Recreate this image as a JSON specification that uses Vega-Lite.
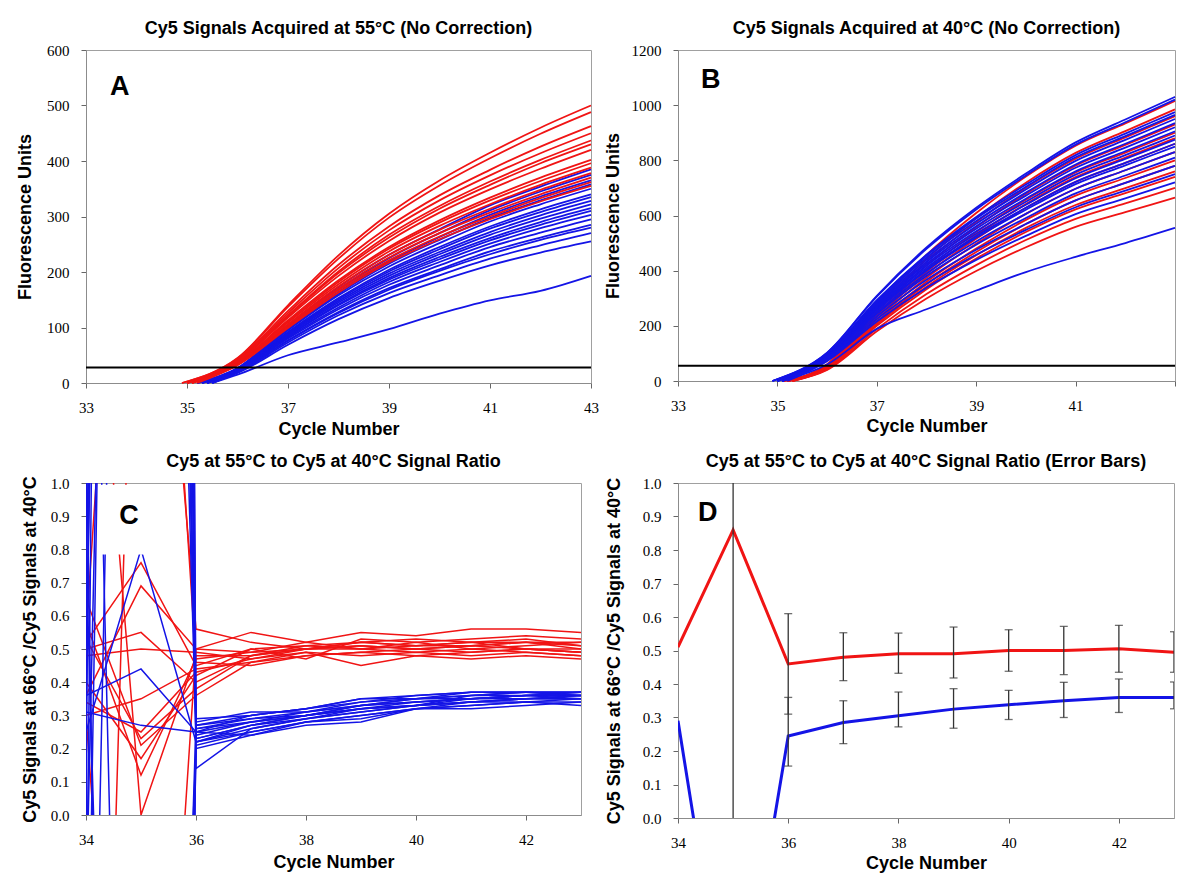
{
"$schema":"https://vega.github.io/schema/vega-lite/v6.json",
"padding":{"left":16,"top":19,"right":5,"bottom":5},
"bounds":"flush",
"columns":2,
"spacing":{"row":100,"column":87},
"config":{
"view":{"stroke":"#a0a0a0","strokeWidth":1},
"axis":{"grid":false,"domainColor":"#8c8c8c","tickColor":"#666","tickSize":5,"labelFont":"'Liberation Serif', 'Times New Roman', serif","labelFontSize":15,"labelColor":"#000","labelPadding":12,"labelFlush":false,"labelOverlap":false,"titleFont":"Liberation Sans","titleFontSize":18,"titleFontWeight":"bold","titleColor":"#000","titleBaseline":"alphabetic"},
"title":{"font":"Liberation Sans","fontSize":18,"fontWeight":"bold","color":"#000","offset":5,"anchor":"middle"}
},
"datasets":{
"A":[
{"s":"b1","g":"b","x":35.2,"y":0},{"s":"b1","g":"b","x":36,"y":27},{"s":"b1","g":"b","x":37,"y":104},{"s":"b1","g":"b","x":38,"y":173},{"s":"b1","g":"b","x":39,"y":231},{"s":"b1","g":"b","x":40,"y":277},{"s":"b1","g":"b","x":41,"y":320},{"s":"b1","g":"b","x":42,"y":354},{"s":"b1","g":"b","x":43,"y":385},
{"s":"b2","g":"b","x":35.3,"y":0},{"s":"b2","g":"b","x":36,"y":26},{"s":"b2","g":"b","x":37,"y":101},{"s":"b2","g":"b","x":38,"y":169},{"s":"b2","g":"b","x":39,"y":225},{"s":"b2","g":"b","x":40,"y":270},{"s":"b2","g":"b","x":41,"y":311},{"s":"b2","g":"b","x":42,"y":345},{"s":"b2","g":"b","x":43,"y":375},
{"s":"b3","g":"b","x":35.2,"y":0},{"s":"b3","g":"b","x":36,"y":26},{"s":"b3","g":"b","x":37,"y":99},{"s":"b3","g":"b","x":38,"y":164},{"s":"b3","g":"b","x":39,"y":219},{"s":"b3","g":"b","x":40,"y":263},{"s":"b3","g":"b","x":41,"y":303},{"s":"b3","g":"b","x":42,"y":336},{"s":"b3","g":"b","x":43,"y":365},
{"s":"b4","g":"b","x":35.3,"y":0},{"s":"b4","g":"b","x":36,"y":25},{"s":"b4","g":"b","x":37,"y":97},{"s":"b4","g":"b","x":38,"y":161},{"s":"b4","g":"b","x":39,"y":215},{"s":"b4","g":"b","x":40,"y":258},{"s":"b4","g":"b","x":41,"y":297},{"s":"b4","g":"b","x":42,"y":329},{"s":"b4","g":"b","x":43,"y":358},
{"s":"b5","g":"b","x":35.4,"y":0},{"s":"b5","g":"b","x":36,"y":25},{"s":"b5","g":"b","x":37,"y":95},{"s":"b5","g":"b","x":38,"y":158},{"s":"b5","g":"b","x":39,"y":210},{"s":"b5","g":"b","x":40,"y":252},{"s":"b5","g":"b","x":41,"y":291},{"s":"b5","g":"b","x":42,"y":322},{"s":"b5","g":"b","x":43,"y":350},
{"s":"b6","g":"b","x":35.3,"y":0},{"s":"b6","g":"b","x":36,"y":24},{"s":"b6","g":"b","x":37,"y":92},{"s":"b6","g":"b","x":38,"y":153},{"s":"b6","g":"b","x":39,"y":204},{"s":"b6","g":"b","x":40,"y":245},{"s":"b6","g":"b","x":41,"y":282},{"s":"b6","g":"b","x":42,"y":313},{"s":"b6","g":"b","x":43,"y":340},
{"s":"b7","g":"b","x":35.2,"y":0},{"s":"b7","g":"b","x":36,"y":23},{"s":"b7","g":"b","x":37,"y":90},{"s":"b7","g":"b","x":38,"y":151},{"s":"b7","g":"b","x":39,"y":201},{"s":"b7","g":"b","x":40,"y":241},{"s":"b7","g":"b","x":41,"y":278},{"s":"b7","g":"b","x":42,"y":308},{"s":"b7","g":"b","x":43,"y":335},
{"s":"b8","g":"b","x":35.4,"y":0},{"s":"b8","g":"b","x":36,"y":23},{"s":"b8","g":"b","x":37,"y":89},{"s":"b8","g":"b","x":38,"y":148},{"s":"b8","g":"b","x":39,"y":197},{"s":"b8","g":"b","x":40,"y":236},{"s":"b8","g":"b","x":41,"y":272},{"s":"b8","g":"b","x":42,"y":302},{"s":"b8","g":"b","x":43,"y":328},
{"s":"b9","g":"b","x":35.3,"y":0},{"s":"b9","g":"b","x":36,"y":23},{"s":"b9","g":"b","x":37,"y":87},{"s":"b9","g":"b","x":38,"y":145},{"s":"b9","g":"b","x":39,"y":193},{"s":"b9","g":"b","x":40,"y":232},{"s":"b9","g":"b","x":41,"y":267},{"s":"b9","g":"b","x":42,"y":296},{"s":"b9","g":"b","x":43,"y":322},
{"s":"b10","g":"b","x":35.4,"y":0},{"s":"b10","g":"b","x":36,"y":22},{"s":"b10","g":"b","x":37,"y":85},{"s":"b10","g":"b","x":38,"y":142},{"s":"b10","g":"b","x":39,"y":189},{"s":"b10","g":"b","x":40,"y":227},{"s":"b10","g":"b","x":41,"y":261},{"s":"b10","g":"b","x":42,"y":290},{"s":"b10","g":"b","x":43,"y":315},
{"s":"b11","g":"b","x":35.3,"y":0},{"s":"b11","g":"b","x":36,"y":22},{"s":"b11","g":"b","x":37,"y":84},{"s":"b11","g":"b","x":38,"y":140},{"s":"b11","g":"b","x":39,"y":186},{"s":"b11","g":"b","x":40,"y":223},{"s":"b11","g":"b","x":41,"y":257},{"s":"b11","g":"b","x":42,"y":285},{"s":"b11","g":"b","x":43,"y":310},
{"s":"b12","g":"b","x":35.4,"y":0},{"s":"b12","g":"b","x":36,"y":21},{"s":"b12","g":"b","x":37,"y":82},{"s":"b12","g":"b","x":38,"y":136},{"s":"b12","g":"b","x":39,"y":182},{"s":"b12","g":"b","x":40,"y":218},{"s":"b12","g":"b","x":41,"y":251},{"s":"b12","g":"b","x":42,"y":279},{"s":"b12","g":"b","x":43,"y":303},
{"s":"b13","g":"b","x":35.5,"y":0},{"s":"b13","g":"b","x":36,"y":21},{"s":"b13","g":"b","x":37,"y":80},{"s":"b13","g":"b","x":38,"y":133},{"s":"b13","g":"b","x":39,"y":177},{"s":"b13","g":"b","x":40,"y":212},{"s":"b13","g":"b","x":41,"y":245},{"s":"b13","g":"b","x":42,"y":271},{"s":"b13","g":"b","x":43,"y":295},
{"s":"b14","g":"b","x":35.4,"y":0},{"s":"b14","g":"b","x":36,"y":20},{"s":"b14","g":"b","x":37,"y":77},{"s":"b14","g":"b","x":38,"y":128},{"s":"b14","g":"b","x":39,"y":171},{"s":"b14","g":"b","x":40,"y":205},{"s":"b14","g":"b","x":41,"y":237},{"s":"b14","g":"b","x":42,"y":262},{"s":"b14","g":"b","x":43,"y":285},
{"s":"b15","g":"b","x":35.5,"y":0},{"s":"b15","g":"b","x":36,"y":20},{"s":"b15","g":"b","x":37,"y":76},{"s":"b15","g":"b","x":38,"y":126},{"s":"b15","g":"b","x":39,"y":168},{"s":"b15","g":"b","x":40,"y":202},{"s":"b15","g":"b","x":41,"y":232},{"s":"b15","g":"b","x":42,"y":258},{"s":"b15","g":"b","x":43,"y":280},
{"s":"b16","g":"b","x":35.5,"y":0},{"s":"b16","g":"b","x":36,"y":19},{"s":"b16","g":"b","x":37,"y":73},{"s":"b16","g":"b","x":38,"y":122},{"s":"b16","g":"b","x":39,"y":162},{"s":"b16","g":"b","x":40,"y":194},{"s":"b16","g":"b","x":41,"y":224},{"s":"b16","g":"b","x":42,"y":248},{"s":"b16","g":"b","x":43,"y":270},
{"s":"b17","g":"b","x":35.4,"y":0},{"s":"b17","g":"b","x":36,"y":18},{"s":"b17","g":"b","x":37,"y":69},{"s":"b17","g":"b","x":38,"y":115},{"s":"b17","g":"b","x":39,"y":153},{"s":"b17","g":"b","x":40,"y":184},{"s":"b17","g":"b","x":41,"y":212},{"s":"b17","g":"b","x":42,"y":235},{"s":"b17","g":"b","x":43,"y":255},
{"s":"b18","g":"b","x":35.5,"y":0},{"s":"b18","g":"b","x":36,"y":15},{"s":"b18","g":"b","x":37,"y":50},{"s":"b18","g":"b","x":38,"y":73},{"s":"b18","g":"b","x":39,"y":97},{"s":"b18","g":"b","x":40,"y":125},{"s":"b18","g":"b","x":41,"y":149},{"s":"b18","g":"b","x":42,"y":166},{"s":"b18","g":"b","x":43,"y":193},
{"s":"r1","g":"r","x":34.9,"y":0},{"s":"r1","g":"r","x":36,"y":45},{"s":"r1","g":"r","x":37,"y":140},{"s":"r1","g":"r","x":38,"y":230},{"s":"r1","g":"r","x":39,"y":305},{"s":"r1","g":"r","x":40,"y":365},{"s":"r1","g":"r","x":41,"y":415},{"s":"r1","g":"r","x":42,"y":460},{"s":"r1","g":"r","x":43,"y":500},
{"s":"r2","g":"r","x":34.9,"y":0},{"s":"r2","g":"r","x":36,"y":44},{"s":"r2","g":"r","x":37,"y":137},{"s":"r2","g":"r","x":38,"y":224},{"s":"r2","g":"r","x":39,"y":298},{"s":"r2","g":"r","x":40,"y":356},{"s":"r2","g":"r","x":41,"y":405},{"s":"r2","g":"r","x":42,"y":449},{"s":"r2","g":"r","x":43,"y":488},
{"s":"r3","g":"r","x":35.0,"y":0},{"s":"r3","g":"r","x":36,"y":42},{"s":"r3","g":"r","x":37,"y":130},{"s":"r3","g":"r","x":38,"y":213},{"s":"r3","g":"r","x":39,"y":282},{"s":"r3","g":"r","x":40,"y":338},{"s":"r3","g":"r","x":41,"y":384},{"s":"r3","g":"r","x":42,"y":426},{"s":"r3","g":"r","x":43,"y":463},
{"s":"r4","g":"r","x":35.0,"y":0},{"s":"r4","g":"r","x":36,"y":41},{"s":"r4","g":"r","x":37,"y":126},{"s":"r4","g":"r","x":38,"y":207},{"s":"r4","g":"r","x":39,"y":275},{"s":"r4","g":"r","x":40,"y":329},{"s":"r4","g":"r","x":41,"y":374},{"s":"r4","g":"r","x":42,"y":414},{"s":"r4","g":"r","x":43,"y":450},
{"s":"r5","g":"r","x":35.0,"y":0},{"s":"r5","g":"r","x":36,"y":39},{"s":"r5","g":"r","x":37,"y":122},{"s":"r5","g":"r","x":38,"y":201},{"s":"r5","g":"r","x":39,"y":267},{"s":"r5","g":"r","x":40,"y":319},{"s":"r5","g":"r","x":41,"y":363},{"s":"r5","g":"r","x":42,"y":402},{"s":"r5","g":"r","x":43,"y":437},
{"s":"r6","g":"r","x":35.1,"y":0},{"s":"r6","g":"r","x":36,"y":39},{"s":"r6","g":"r","x":37,"y":120},{"s":"r6","g":"r","x":38,"y":198},{"s":"r6","g":"r","x":39,"y":262},{"s":"r6","g":"r","x":40,"y":314},{"s":"r6","g":"r","x":41,"y":357},{"s":"r6","g":"r","x":42,"y":396},{"s":"r6","g":"r","x":43,"y":430},
{"s":"r7","g":"r","x":35.0,"y":0},{"s":"r7","g":"r","x":36,"y":38},{"s":"r7","g":"r","x":37,"y":118},{"s":"r7","g":"r","x":38,"y":193},{"s":"r7","g":"r","x":39,"y":256},{"s":"r7","g":"r","x":40,"y":307},{"s":"r7","g":"r","x":41,"y":349},{"s":"r7","g":"r","x":42,"y":386},{"s":"r7","g":"r","x":43,"y":420},
{"s":"r8","g":"r","x":35.1,"y":0},{"s":"r8","g":"r","x":36,"y":36},{"s":"r8","g":"r","x":37,"y":113},{"s":"r8","g":"r","x":38,"y":185},{"s":"r8","g":"r","x":39,"y":245},{"s":"r8","g":"r","x":40,"y":293},{"s":"r8","g":"r","x":41,"y":334},{"s":"r8","g":"r","x":42,"y":370},{"s":"r8","g":"r","x":43,"y":402},
{"s":"r9","g":"r","x":35.0,"y":0},{"s":"r9","g":"r","x":36,"y":36},{"s":"r9","g":"r","x":37,"y":111},{"s":"r9","g":"r","x":38,"y":182},{"s":"r9","g":"r","x":39,"y":242},{"s":"r9","g":"r","x":40,"y":289},{"s":"r9","g":"r","x":41,"y":329},{"s":"r9","g":"r","x":42,"y":364},{"s":"r9","g":"r","x":43,"y":396},
{"s":"r10","g":"r","x":35.1,"y":0},{"s":"r10","g":"r","x":36,"y":35},{"s":"r10","g":"r","x":37,"y":109},{"s":"r10","g":"r","x":38,"y":178},{"s":"r10","g":"r","x":39,"y":237},{"s":"r10","g":"r","x":40,"y":283},{"s":"r10","g":"r","x":41,"y":322},{"s":"r10","g":"r","x":42,"y":357},{"s":"r10","g":"r","x":43,"y":388},
{"s":"r11","g":"r","x":35.0,"y":0},{"s":"r11","g":"r","x":36,"y":34},{"s":"r11","g":"r","x":37,"y":106},{"s":"r11","g":"r","x":38,"y":174},{"s":"r11","g":"r","x":39,"y":231},{"s":"r11","g":"r","x":40,"y":276},{"s":"r11","g":"r","x":41,"y":314},{"s":"r11","g":"r","x":42,"y":348},{"s":"r11","g":"r","x":43,"y":378},
{"s":"r12","g":"r","x":35.1,"y":0},{"s":"r12","g":"r","x":36,"y":33},{"s":"r12","g":"r","x":37,"y":104},{"s":"r12","g":"r","x":38,"y":170},{"s":"r12","g":"r","x":39,"y":226},{"s":"r12","g":"r","x":40,"y":270},{"s":"r12","g":"r","x":41,"y":307},{"s":"r12","g":"r","x":42,"y":340},{"s":"r12","g":"r","x":43,"y":370},
{"s":"r13","g":"r","x":35.1,"y":0},{"s":"r13","g":"r","x":36,"y":33},{"s":"r13","g":"r","x":37,"y":101},{"s":"r13","g":"r","x":38,"y":167},{"s":"r13","g":"r","x":39,"y":221},{"s":"r13","g":"r","x":40,"y":264},{"s":"r13","g":"r","x":41,"y":300},{"s":"r13","g":"r","x":42,"y":333},{"s":"r13","g":"r","x":43,"y":362},
{"s":"r14","g":"r","x":35.2,"y":0},{"s":"r14","g":"r","x":36,"y":32},{"s":"r14","g":"r","x":37,"y":99},{"s":"r14","g":"r","x":38,"y":163},{"s":"r14","g":"r","x":39,"y":217},{"s":"r14","g":"r","x":40,"y":259},{"s":"r14","g":"r","x":41,"y":295},{"s":"r14","g":"r","x":42,"y":327},{"s":"r14","g":"r","x":43,"y":355}
],
"B":[
{"s":"r1","g":"r","x":35.1,"y":0},{"s":"r1","g":"r","x":36,"y":61},{"s":"r1","g":"r","x":37,"y":274},{"s":"r1","g":"r","x":38,"y":457},{"s":"r1","g":"r","x":39,"y":609},{"s":"r1","g":"r","x":40,"y":741},{"s":"r1","g":"r","x":41,"y":853},{"s":"r1","g":"r","x":42,"y":934},{"s":"r1","g":"r","x":43,"y":1015},
{"s":"r2","g":"r","x":35.2,"y":0},{"s":"r2","g":"r","x":36,"y":59},{"s":"r2","g":"r","x":37,"y":266},{"s":"r2","g":"r","x":38,"y":443},{"s":"r2","g":"r","x":39,"y":591},{"s":"r2","g":"r","x":40,"y":719},{"s":"r2","g":"r","x":41,"y":827},{"s":"r2","g":"r","x":42,"y":906},{"s":"r2","g":"r","x":43,"y":985},
{"s":"r3","g":"r","x":35.1,"y":0},{"s":"r3","g":"r","x":36,"y":58},{"s":"r3","g":"r","x":37,"y":259},{"s":"r3","g":"r","x":38,"y":432},{"s":"r3","g":"r","x":39,"y":576},{"s":"r3","g":"r","x":40,"y":701},{"s":"r3","g":"r","x":41,"y":806},{"s":"r3","g":"r","x":42,"y":883},{"s":"r3","g":"r","x":43,"y":960},
{"s":"r4","g":"r","x":35.2,"y":0},{"s":"r4","g":"r","x":36,"y":56},{"s":"r4","g":"r","x":37,"y":251},{"s":"r4","g":"r","x":38,"y":419},{"s":"r4","g":"r","x":39,"y":558},{"s":"r4","g":"r","x":40,"y":679},{"s":"r4","g":"r","x":41,"y":781},{"s":"r4","g":"r","x":42,"y":856},{"s":"r4","g":"r","x":43,"y":930},
{"s":"r5","g":"r","x":35.2,"y":0},{"s":"r5","g":"r","x":36,"y":54},{"s":"r5","g":"r","x":37,"y":243},{"s":"r5","g":"r","x":38,"y":405},{"s":"r5","g":"r","x":39,"y":540},{"s":"r5","g":"r","x":40,"y":657},{"s":"r5","g":"r","x":41,"y":756},{"s":"r5","g":"r","x":42,"y":828},{"s":"r5","g":"r","x":43,"y":900},
{"s":"r6","g":"r","x":35.1,"y":0},{"s":"r6","g":"r","x":36,"y":53},{"s":"r6","g":"r","x":37,"y":238},{"s":"r6","g":"r","x":38,"y":396},{"s":"r6","g":"r","x":39,"y":528},{"s":"r6","g":"r","x":40,"y":642},{"s":"r6","g":"r","x":41,"y":739},{"s":"r6","g":"r","x":42,"y":810},{"s":"r6","g":"r","x":43,"y":880},
{"s":"r7","g":"r","x":35.2,"y":0},{"s":"r7","g":"r","x":36,"y":52},{"s":"r7","g":"r","x":37,"y":232},{"s":"r7","g":"r","x":38,"y":387},{"s":"r7","g":"r","x":39,"y":516},{"s":"r7","g":"r","x":40,"y":628},{"s":"r7","g":"r","x":41,"y":722},{"s":"r7","g":"r","x":42,"y":791},{"s":"r7","g":"r","x":43,"y":860},
{"s":"r8","g":"r","x":35.3,"y":0},{"s":"r8","g":"r","x":36,"y":50},{"s":"r8","g":"r","x":37,"y":224},{"s":"r8","g":"r","x":38,"y":374},{"s":"r8","g":"r","x":39,"y":498},{"s":"r8","g":"r","x":40,"y":606},{"s":"r8","g":"r","x":41,"y":697},{"s":"r8","g":"r","x":42,"y":764},{"s":"r8","g":"r","x":43,"y":830},
{"s":"r9","g":"r","x":35.2,"y":0},{"s":"r9","g":"r","x":36,"y":48},{"s":"r9","g":"r","x":37,"y":216},{"s":"r9","g":"r","x":38,"y":360},{"s":"r9","g":"r","x":39,"y":480},{"s":"r9","g":"r","x":40,"y":584},{"s":"r9","g":"r","x":41,"y":672},{"s":"r9","g":"r","x":42,"y":736},{"s":"r9","g":"r","x":43,"y":800},
{"s":"r10","g":"r","x":35.2,"y":0},{"s":"r10","g":"r","x":36,"y":47},{"s":"r10","g":"r","x":37,"y":211},{"s":"r10","g":"r","x":38,"y":351},{"s":"r10","g":"r","x":39,"y":468},{"s":"r10","g":"r","x":40,"y":569},{"s":"r10","g":"r","x":41,"y":655},{"s":"r10","g":"r","x":42,"y":718},{"s":"r10","g":"r","x":43,"y":780},
{"s":"r11","g":"r","x":35.3,"y":0},{"s":"r11","g":"r","x":36,"y":46},{"s":"r11","g":"r","x":37,"y":205},{"s":"r11","g":"r","x":38,"y":342},{"s":"r11","g":"r","x":39,"y":456},{"s":"r11","g":"r","x":40,"y":555},{"s":"r11","g":"r","x":41,"y":638},{"s":"r11","g":"r","x":42,"y":699},{"s":"r11","g":"r","x":43,"y":760},
{"s":"r12","g":"r","x":35.2,"y":0},{"s":"r12","g":"r","x":36,"y":44},{"s":"r12","g":"r","x":37,"y":200},{"s":"r12","g":"r","x":38,"y":333},{"s":"r12","g":"r","x":39,"y":444},{"s":"r12","g":"r","x":40,"y":540},{"s":"r12","g":"r","x":41,"y":622},{"s":"r12","g":"r","x":42,"y":681},{"s":"r12","g":"r","x":43,"y":740},
{"s":"r13","g":"r","x":35.3,"y":0},{"s":"r13","g":"r","x":36,"y":42},{"s":"r13","g":"r","x":37,"y":189},{"s":"r13","g":"r","x":38,"y":315},{"s":"r13","g":"r","x":39,"y":420},{"s":"r13","g":"r","x":40,"y":511},{"s":"r13","g":"r","x":41,"y":588},{"s":"r13","g":"r","x":42,"y":644},{"s":"r13","g":"r","x":43,"y":700},
{"s":"r14","g":"r","x":35.3,"y":0},{"s":"r14","g":"r","x":36,"y":40},{"s":"r14","g":"r","x":37,"y":180},{"s":"r14","g":"r","x":38,"y":299},{"s":"r14","g":"r","x":39,"y":399},{"s":"r14","g":"r","x":40,"y":485},{"s":"r14","g":"r","x":41,"y":559},{"s":"r14","g":"r","x":42,"y":612},{"s":"r14","g":"r","x":43,"y":665},
{"s":"b1","g":"b","x":34.9,"y":0},{"s":"b1","g":"b","x":36,"y":103},{"s":"b1","g":"b","x":37,"y":309},{"s":"b1","g":"b","x":38,"y":484},{"s":"b1","g":"b","x":39,"y":628},{"s":"b1","g":"b","x":40,"y":752},{"s":"b1","g":"b","x":41,"y":865},{"s":"b1","g":"b","x":42,"y":948},{"s":"b1","g":"b","x":43,"y":1030},
{"s":"b2","g":"b","x":34.9,"y":0},{"s":"b2","g":"b","x":36,"y":102},{"s":"b2","g":"b","x":37,"y":306},{"s":"b2","g":"b","x":38,"y":479},{"s":"b2","g":"b","x":39,"y":622},{"s":"b2","g":"b","x":40,"y":745},{"s":"b2","g":"b","x":41,"y":857},{"s":"b2","g":"b","x":42,"y":938},{"s":"b2","g":"b","x":43,"y":1020},
{"s":"b3","g":"b","x":35.0,"y":0},{"s":"b3","g":"b","x":36,"y":98},{"s":"b3","g":"b","x":37,"y":293},{"s":"b3","g":"b","x":38,"y":458},{"s":"b3","g":"b","x":39,"y":595},{"s":"b3","g":"b","x":40,"y":712},{"s":"b3","g":"b","x":41,"y":819},{"s":"b3","g":"b","x":42,"y":897},{"s":"b3","g":"b","x":43,"y":975},
{"s":"b4","g":"b","x":34.9,"y":0},{"s":"b4","g":"b","x":36,"y":97},{"s":"b4","g":"b","x":37,"y":290},{"s":"b4","g":"b","x":38,"y":454},{"s":"b4","g":"b","x":39,"y":589},{"s":"b4","g":"b","x":40,"y":704},{"s":"b4","g":"b","x":41,"y":811},{"s":"b4","g":"b","x":42,"y":888},{"s":"b4","g":"b","x":43,"y":965},
{"s":"b5","g":"b","x":35.0,"y":0},{"s":"b5","g":"b","x":36,"y":95},{"s":"b5","g":"b","x":37,"y":285},{"s":"b5","g":"b","x":38,"y":447},{"s":"b5","g":"b","x":39,"y":580},{"s":"b5","g":"b","x":40,"y":694},{"s":"b5","g":"b","x":41,"y":798},{"s":"b5","g":"b","x":42,"y":874},{"s":"b5","g":"b","x":43,"y":950},
{"s":"b6","g":"b","x":35.0,"y":0},{"s":"b6","g":"b","x":36,"y":94},{"s":"b6","g":"b","x":37,"y":281},{"s":"b6","g":"b","x":38,"y":439},{"s":"b6","g":"b","x":39,"y":570},{"s":"b6","g":"b","x":40,"y":683},{"s":"b6","g":"b","x":41,"y":785},{"s":"b6","g":"b","x":42,"y":860},{"s":"b6","g":"b","x":43,"y":935},
{"s":"b7","g":"b","x":35.0,"y":0},{"s":"b7","g":"b","x":36,"y":92},{"s":"b7","g":"b","x":37,"y":276},{"s":"b7","g":"b","x":38,"y":432},{"s":"b7","g":"b","x":39,"y":561},{"s":"b7","g":"b","x":40,"y":672},{"s":"b7","g":"b","x":41,"y":773},{"s":"b7","g":"b","x":42,"y":846},{"s":"b7","g":"b","x":43,"y":920},
{"s":"b8","g":"b","x":35.1,"y":0},{"s":"b8","g":"b","x":36,"y":91},{"s":"b8","g":"b","x":37,"y":272},{"s":"b8","g":"b","x":38,"y":425},{"s":"b8","g":"b","x":39,"y":552},{"s":"b8","g":"b","x":40,"y":661},{"s":"b8","g":"b","x":41,"y":760},{"s":"b8","g":"b","x":42,"y":833},{"s":"b8","g":"b","x":43,"y":905},
{"s":"b9","g":"b","x":35.0,"y":0},{"s":"b9","g":"b","x":36,"y":89},{"s":"b9","g":"b","x":37,"y":267},{"s":"b9","g":"b","x":38,"y":418},{"s":"b9","g":"b","x":39,"y":543},{"s":"b9","g":"b","x":40,"y":650},{"s":"b9","g":"b","x":41,"y":748},{"s":"b9","g":"b","x":42,"y":819},{"s":"b9","g":"b","x":43,"y":890},
{"s":"b10","g":"b","x":35.1,"y":0},{"s":"b10","g":"b","x":36,"y":88},{"s":"b10","g":"b","x":37,"y":263},{"s":"b10","g":"b","x":38,"y":411},{"s":"b10","g":"b","x":39,"y":534},{"s":"b10","g":"b","x":40,"y":639},{"s":"b10","g":"b","x":41,"y":735},{"s":"b10","g":"b","x":42,"y":805},{"s":"b10","g":"b","x":43,"y":875},
{"s":"b11","g":"b","x":35.0,"y":0},{"s":"b11","g":"b","x":36,"y":86},{"s":"b11","g":"b","x":37,"y":258},{"s":"b11","g":"b","x":38,"y":404},{"s":"b11","g":"b","x":39,"y":525},{"s":"b11","g":"b","x":40,"y":628},{"s":"b11","g":"b","x":41,"y":722},{"s":"b11","g":"b","x":42,"y":791},{"s":"b11","g":"b","x":43,"y":860},
{"s":"b12","g":"b","x":35.1,"y":0},{"s":"b12","g":"b","x":36,"y":85},{"s":"b12","g":"b","x":37,"y":255},{"s":"b12","g":"b","x":38,"y":400},{"s":"b12","g":"b","x":39,"y":519},{"s":"b12","g":"b","x":40,"y":621},{"s":"b12","g":"b","x":41,"y":714},{"s":"b12","g":"b","x":42,"y":782},{"s":"b12","g":"b","x":43,"y":850},
{"s":"b13","g":"b","x":35.1,"y":0},{"s":"b13","g":"b","x":36,"y":83},{"s":"b13","g":"b","x":37,"y":249},{"s":"b13","g":"b","x":38,"y":390},{"s":"b13","g":"b","x":39,"y":506},{"s":"b13","g":"b","x":40,"y":606},{"s":"b13","g":"b","x":41,"y":697},{"s":"b13","g":"b","x":42,"y":764},{"s":"b13","g":"b","x":43,"y":830},
{"s":"b14","g":"b","x":35.0,"y":0},{"s":"b14","g":"b","x":36,"y":81},{"s":"b14","g":"b","x":37,"y":243},{"s":"b14","g":"b","x":38,"y":381},{"s":"b14","g":"b","x":39,"y":494},{"s":"b14","g":"b","x":40,"y":591},{"s":"b14","g":"b","x":41,"y":680},{"s":"b14","g":"b","x":42,"y":745},{"s":"b14","g":"b","x":43,"y":810},
{"s":"b15","g":"b","x":35.1,"y":0},{"s":"b15","g":"b","x":36,"y":78},{"s":"b15","g":"b","x":37,"y":234},{"s":"b15","g":"b","x":38,"y":367},{"s":"b15","g":"b","x":39,"y":476},{"s":"b15","g":"b","x":40,"y":569},{"s":"b15","g":"b","x":41,"y":655},{"s":"b15","g":"b","x":42,"y":718},{"s":"b15","g":"b","x":43,"y":780},
{"s":"b16","g":"b","x":35.1,"y":0},{"s":"b16","g":"b","x":36,"y":75},{"s":"b16","g":"b","x":37,"y":225},{"s":"b16","g":"b","x":38,"y":353},{"s":"b16","g":"b","x":39,"y":458},{"s":"b16","g":"b","x":40,"y":548},{"s":"b16","g":"b","x":41,"y":630},{"s":"b16","g":"b","x":42,"y":690},{"s":"b16","g":"b","x":43,"y":750},
{"s":"b17","g":"b","x":35.2,"y":0},{"s":"b17","g":"b","x":36,"y":72},{"s":"b17","g":"b","x":37,"y":216},{"s":"b17","g":"b","x":38,"y":338},{"s":"b17","g":"b","x":39,"y":439},{"s":"b17","g":"b","x":40,"y":526},{"s":"b17","g":"b","x":41,"y":605},{"s":"b17","g":"b","x":42,"y":662},{"s":"b17","g":"b","x":43,"y":720},
{"s":"b18","g":"b","x":35.1,"y":0},{"s":"b18","g":"b","x":36,"y":60},{"s":"b18","g":"b","x":37,"y":189},{"s":"b18","g":"b","x":38,"y":260},{"s":"b18","g":"b","x":39,"y":328},{"s":"b18","g":"b","x":40,"y":395},{"s":"b18","g":"b","x":41,"y":450},{"s":"b18","g":"b","x":42,"y":500},{"s":"b18","g":"b","x":43,"y":555}
],
"C":[
{"s":"r1","g":"r","x":34,"y":0.52},{"s":"r1","g":"r","x":35,"y":0.76},{"s":"r1","g":"r","x":36,"y":0.45},{"s":"r1","g":"r","x":37,"y":0.50},{"s":"r1","g":"r","x":38,"y":0.51},{"s":"r1","g":"r","x":39,"y":0.52},{"s":"r1","g":"r","x":40,"y":0.51},{"s":"r1","g":"r","x":41,"y":0.52},{"s":"r1","g":"r","x":42,"y":0.53},{"s":"r1","g":"r","x":43,"y":0.51},
{"s":"r2","g":"r","x":34,"y":0.36},{"s":"r2","g":"r","x":35,"y":0.69},{"s":"r2","g":"r","x":36,"y":0.50},{"s":"r2","g":"r","x":37,"y":0.55},{"s":"r2","g":"r","x":38,"y":0.52},{"s":"r2","g":"r","x":39,"y":0.55},{"s":"r2","g":"r","x":40,"y":0.54},{"s":"r2","g":"r","x":41,"y":0.56},{"s":"r2","g":"r","x":42,"y":0.56},{"s":"r2","g":"r","x":43,"y":0.55},
{"s":"r3","g":"r","x":34,"y":0.50},{"s":"r3","g":"r","x":35,"y":0.55},{"s":"r3","g":"r","x":36,"y":0.40},{"s":"r3","g":"r","x":37,"y":0.48},{"s":"r3","g":"r","x":38,"y":0.50},{"s":"r3","g":"r","x":39,"y":0.51},{"s":"r3","g":"r","x":40,"y":0.50},{"s":"r3","g":"r","x":41,"y":0.51},{"s":"r3","g":"r","x":42,"y":0.52},{"s":"r3","g":"r","x":43,"y":0.50},
{"s":"r4","g":"r","x":34,"y":0.48},{"s":"r4","g":"r","x":35,"y":0.50},{"s":"r4","g":"r","x":36,"y":0.49},{"s":"r4","g":"r","x":37,"y":0.47},{"s":"r4","g":"r","x":38,"y":0.49},{"s":"r4","g":"r","x":39,"y":0.45},{"s":"r4","g":"r","x":40,"y":0.48},{"s":"r4","g":"r","x":41,"y":0.47},{"s":"r4","g":"r","x":42,"y":0.48},{"s":"r4","g":"r","x":43,"y":0.47},
{"s":"r5","g":"r","x":34,"y":0.30},{"s":"r5","g":"r","x":35,"y":0.35},{"s":"r5","g":"r","x":36,"y":0.44},{"s":"r5","g":"r","x":37,"y":0.46},{"s":"r5","g":"r","x":38,"y":0.48},{"s":"r5","g":"r","x":39,"y":0.49},{"s":"r5","g":"r","x":40,"y":0.50},{"s":"r5","g":"r","x":41,"y":0.49},{"s":"r5","g":"r","x":42,"y":0.50},{"s":"r5","g":"r","x":43,"y":0.49},
{"s":"r6","g":"r","x":34,"y":0.53},{"s":"r6","g":"r","x":35,"y":0.23},{"s":"r6","g":"r","x":36,"y":0.38},{"s":"r6","g":"r","x":37,"y":0.48},{"s":"r6","g":"r","x":38,"y":0.50},{"s":"r6","g":"r","x":39,"y":0.50},{"s":"r6","g":"r","x":40,"y":0.52},{"s":"r6","g":"r","x":41,"y":0.50},{"s":"r6","g":"r","x":42,"y":0.51},{"s":"r6","g":"r","x":43,"y":0.52},
{"s":"r7","g":"r","x":34,"y":0.65},{"s":"r7","g":"r","x":35,"y":0.21},{"s":"r7","g":"r","x":36,"y":0.36},{"s":"r7","g":"r","x":37,"y":0.46},{"s":"r7","g":"r","x":38,"y":0.49},{"s":"r7","g":"r","x":39,"y":0.48},{"s":"r7","g":"r","x":40,"y":0.49},{"s":"r7","g":"r","x":41,"y":0.48},{"s":"r7","g":"r","x":42,"y":0.49},{"s":"r7","g":"r","x":43,"y":0.48},
{"s":"r8","g":"r","x":34,"y":0.40},{"s":"r8","g":"r","x":35,"y":0.17},{"s":"r8","g":"r","x":36,"y":0.42},{"s":"r8","g":"r","x":37,"y":0.50},{"s":"r8","g":"r","x":38,"y":0.47},{"s":"r8","g":"r","x":39,"y":0.53},{"s":"r8","g":"r","x":40,"y":0.52},{"s":"r8","g":"r","x":41,"y":0.53},{"s":"r8","g":"r","x":42,"y":0.54},{"s":"r8","g":"r","x":43,"y":0.53},
{"s":"r9","g":"r","x":34,"y":0.58},{"s":"r9","g":"r","x":35,"y":0.12},{"s":"r9","g":"r","x":36,"y":0.47},{"s":"r9","g":"r","x":37,"y":0.49},{"s":"r9","g":"r","x":38,"y":0.52},{"s":"r9","g":"r","x":39,"y":0.50},{"s":"r9","g":"r","x":40,"y":0.51},{"s":"r9","g":"r","x":41,"y":0.52},{"s":"r9","g":"r","x":42,"y":0.50},{"s":"r9","g":"r","x":43,"y":0.50},
{"s":"r10","g":"r","x":34,"y":0.30},{"s":"r10","g":"r","x":35,"y":-2.0},{"s":"r10","g":"r","x":36,"y":0.50},{"s":"r10","g":"r","x":37,"y":0.49},{"s":"r10","g":"r","x":38,"y":0.50},{"s":"r10","g":"r","x":39,"y":0.51},{"s":"r10","g":"r","x":40,"y":0.50},{"s":"r10","g":"r","x":41,"y":0.51},{"s":"r10","g":"r","x":42,"y":0.50},{"s":"r10","g":"r","x":43,"y":0.49},
{"s":"r11","g":"r","x":34,"y":-3.0},{"s":"r11","g":"r","x":35,"y":2.5},{"s":"r11","g":"r","x":36,"y":0.56},{"s":"r11","g":"r","x":37,"y":0.52},{"s":"r11","g":"r","x":38,"y":0.50},{"s":"r11","g":"r","x":39,"y":0.52},{"s":"r11","g":"r","x":40,"y":0.53},{"s":"r11","g":"r","x":41,"y":0.52},{"s":"r11","g":"r","x":42,"y":0.52},{"s":"r11","g":"r","x":43,"y":0.51},
{"s":"r12","g":"r","x":34,"y":2.0},{"s":"r12","g":"r","x":35,"y":0.0},{"s":"r12","g":"r","x":36,"y":0.48},{"s":"r12","g":"r","x":37,"y":0.48},{"s":"r12","g":"r","x":38,"y":0.51},{"s":"r12","g":"r","x":39,"y":0.50},{"s":"r12","g":"r","x":40,"y":0.49},{"s":"r12","g":"r","x":41,"y":0.50},{"s":"r12","g":"r","x":42,"y":0.49},{"s":"r12","g":"r","x":43,"y":0.48},
{"s":"r13","g":"r","x":34,"y":0.55},{"s":"r13","g":"r","x":35,"y":3.0},{"s":"r13","g":"r","x":36,"y":0.46},{"s":"r13","g":"r","x":37,"y":0.45},{"s":"r13","g":"r","x":38,"y":0.48},{"s":"r13","g":"r","x":39,"y":0.49},{"s":"r13","g":"r","x":40,"y":0.48},{"s":"r13","g":"r","x":41,"y":0.49},{"s":"r13","g":"r","x":42,"y":0.50},{"s":"r13","g":"r","x":43,"y":0.49},
{"s":"r14","g":"r","x":34,"y":0.34},{"s":"r14","g":"r","x":35,"y":0.25},{"s":"r14","g":"r","x":36,"y":0.43},{"s":"r14","g":"r","x":37,"y":0.47},{"s":"r14","g":"r","x":38,"y":0.50},{"s":"r14","g":"r","x":39,"y":0.52},{"s":"r14","g":"r","x":40,"y":0.51},{"s":"r14","g":"r","x":41,"y":0.51},{"s":"r14","g":"r","x":42,"y":0.52},{"s":"r14","g":"r","x":43,"y":0.52},
{"s":"b1","g":"b","x":34,"y":0.30},{"s":"b1","g":"b","x":35,"y":12},{"s":"b1","g":"b","x":36,"y":0.25},{"s":"b1","g":"b","x":37,"y":0.28},{"s":"b1","g":"b","x":38,"y":0.30},{"s":"b1","g":"b","x":39,"y":0.33},{"s":"b1","g":"b","x":40,"y":0.34},{"s":"b1","g":"b","x":41,"y":0.35},{"s":"b1","g":"b","x":42,"y":0.36},{"s":"b1","g":"b","x":43,"y":0.36},
{"s":"b2","g":"b","x":34,"y":0.10},{"s":"b2","g":"b","x":35,"y":-10},{"s":"b2","g":"b","x":36,"y":0.22},{"s":"b2","g":"b","x":37,"y":0.26},{"s":"b2","g":"b","x":38,"y":0.29},{"s":"b2","g":"b","x":39,"y":0.31},{"s":"b2","g":"b","x":40,"y":0.33},{"s":"b2","g":"b","x":41,"y":0.35},{"s":"b2","g":"b","x":42,"y":0.35},{"s":"b2","g":"b","x":43,"y":0.36},
{"s":"b3","g":"b","x":34,"y":0.50},{"s":"b3","g":"b","x":35,"y":8},{"s":"b3","g":"b","x":36,"y":0.27},{"s":"b3","g":"b","x":37,"y":0.29},{"s":"b3","g":"b","x":38,"y":0.31},{"s":"b3","g":"b","x":39,"y":0.34},{"s":"b3","g":"b","x":40,"y":0.35},{"s":"b3","g":"b","x":41,"y":0.36},{"s":"b3","g":"b","x":42,"y":0.37},{"s":"b3","g":"b","x":43,"y":0.37},
{"s":"b4","g":"b","x":34,"y":0.36},{"s":"b4","g":"b","x":35,"y":0.44},{"s":"b4","g":"b","x":36,"y":0.25},{"s":"b4","g":"b","x":37,"y":0.30},{"s":"b4","g":"b","x":38,"y":0.32},{"s":"b4","g":"b","x":39,"y":0.35},{"s":"b4","g":"b","x":40,"y":0.35},{"s":"b4","g":"b","x":41,"y":0.37},{"s":"b4","g":"b","x":42,"y":0.37},{"s":"b4","g":"b","x":43,"y":0.36},
{"s":"b5","g":"b","x":34,"y":0.31},{"s":"b5","g":"b","x":35,"y":0.27},{"s":"b5","g":"b","x":36,"y":0.25},{"s":"b5","g":"b","x":37,"y":0.24},{"s":"b5","g":"b","x":38,"y":0.28},{"s":"b5","g":"b","x":39,"y":0.29},{"s":"b5","g":"b","x":40,"y":0.32},{"s":"b5","g":"b","x":41,"y":0.33},{"s":"b5","g":"b","x":42,"y":0.34},{"s":"b5","g":"b","x":43,"y":0.34},
{"s":"b6","g":"b","x":34,"y":0.25},{"s":"b6","g":"b","x":35,"y":0.80},{"s":"b6","g":"b","x":36,"y":0.22},{"s":"b6","g":"b","x":37,"y":0.27},{"s":"b6","g":"b","x":38,"y":0.30},{"s":"b6","g":"b","x":39,"y":0.32},{"s":"b6","g":"b","x":40,"y":0.33},{"s":"b6","g":"b","x":41,"y":0.34},{"s":"b6","g":"b","x":42,"y":0.35},{"s":"b6","g":"b","x":43,"y":0.35},
{"s":"b7","g":"b","x":34,"y":-0.5},{"s":"b7","g":"b","x":35,"y":15},{"s":"b7","g":"b","x":36,"y":0.14},{"s":"b7","g":"b","x":37,"y":0.26},{"s":"b7","g":"b","x":38,"y":0.29},{"s":"b7","g":"b","x":39,"y":0.31},{"s":"b7","g":"b","x":40,"y":0.33},{"s":"b7","g":"b","x":41,"y":0.34},{"s":"b7","g":"b","x":42,"y":0.35},{"s":"b7","g":"b","x":43,"y":0.35},
{"s":"b8","g":"b","x":34,"y":1.2},{"s":"b8","g":"b","x":35,"y":-9},{"s":"b8","g":"b","x":36,"y":0.21},{"s":"b8","g":"b","x":37,"y":0.25},{"s":"b8","g":"b","x":38,"y":0.28},{"s":"b8","g":"b","x":39,"y":0.30},{"s":"b8","g":"b","x":40,"y":0.32},{"s":"b8","g":"b","x":41,"y":0.33},{"s":"b8","g":"b","x":42,"y":0.34},{"s":"b8","g":"b","x":43,"y":0.33},
{"s":"b9","g":"b","x":34,"y":0.0},{"s":"b9","g":"b","x":35,"y":20},{"s":"b9","g":"b","x":36,"y":0.23},{"s":"b9","g":"b","x":37,"y":0.27},{"s":"b9","g":"b","x":38,"y":0.30},{"s":"b9","g":"b","x":39,"y":0.33},{"s":"b9","g":"b","x":40,"y":0.34},{"s":"b9","g":"b","x":41,"y":0.35},{"s":"b9","g":"b","x":42,"y":0.36},{"s":"b9","g":"b","x":43,"y":0.37},
{"s":"b10","g":"b","x":34,"y":0.8},{"s":"b10","g":"b","x":35,"y":-5},{"s":"b10","g":"b","x":36,"y":0.28},{"s":"b10","g":"b","x":37,"y":0.31},{"s":"b10","g":"b","x":38,"y":0.31},{"s":"b10","g":"b","x":39,"y":0.33},{"s":"b10","g":"b","x":40,"y":0.35},{"s":"b10","g":"b","x":41,"y":0.36},{"s":"b10","g":"b","x":42,"y":0.37},{"s":"b10","g":"b","x":43,"y":0.37},
{"s":"b11","g":"b","x":34,"y":-2},{"s":"b11","g":"b","x":35,"y":6},{"s":"b11","g":"b","x":36,"y":0.24},{"s":"b11","g":"b","x":37,"y":0.28},{"s":"b11","g":"b","x":38,"y":0.30},{"s":"b11","g":"b","x":39,"y":0.32},{"s":"b11","g":"b","x":40,"y":0.34},{"s":"b11","g":"b","x":41,"y":0.35},{"s":"b11","g":"b","x":42,"y":0.36},{"s":"b11","g":"b","x":43,"y":0.36},
{"s":"b12","g":"b","x":34,"y":0.6},{"s":"b12","g":"b","x":35,"y":25},{"s":"b12","g":"b","x":36,"y":0.26},{"s":"b12","g":"b","x":37,"y":0.29},{"s":"b12","g":"b","x":38,"y":0.30},{"s":"b12","g":"b","x":39,"y":0.32},{"s":"b12","g":"b","x":40,"y":0.33},{"s":"b12","g":"b","x":41,"y":0.36},{"s":"b12","g":"b","x":42,"y":0.36},{"s":"b12","g":"b","x":43,"y":0.35},
{"s":"b13","g":"b","x":34,"y":3},{"s":"b13","g":"b","x":35,"y":-4},{"s":"b13","g":"b","x":36,"y":0.20},{"s":"b13","g":"b","x":37,"y":0.24},{"s":"b13","g":"b","x":38,"y":0.27},{"s":"b13","g":"b","x":39,"y":0.28},{"s":"b13","g":"b","x":40,"y":0.32},{"s":"b13","g":"b","x":41,"y":0.32},{"s":"b13","g":"b","x":42,"y":0.33},{"s":"b13","g":"b","x":43,"y":0.34},
{"s":"b14","g":"b","x":34,"y":0.2},{"s":"b14","g":"b","x":35,"y":-12},{"s":"b14","g":"b","x":36,"y":0.29},{"s":"b14","g":"b","x":37,"y":0.30},{"s":"b14","g":"b","x":38,"y":0.32},{"s":"b14","g":"b","x":39,"y":0.34},{"s":"b14","g":"b","x":40,"y":0.36},{"s":"b14","g":"b","x":41,"y":0.37},{"s":"b14","g":"b","x":42,"y":0.37},{"s":"b14","g":"b","x":43,"y":0.37},
{"s":"b15","g":"b","x":34,"y":-1},{"s":"b15","g":"b","x":35,"y":9},{"s":"b15","g":"b","x":36,"y":0.23},{"s":"b15","g":"b","x":37,"y":0.27},{"s":"b15","g":"b","x":38,"y":0.29},{"s":"b15","g":"b","x":39,"y":0.32},{"s":"b15","g":"b","x":40,"y":0.33},{"s":"b15","g":"b","x":41,"y":0.34},{"s":"b15","g":"b","x":42,"y":0.35},{"s":"b15","g":"b","x":43,"y":0.36},
{"s":"b16","g":"b","x":34,"y":1.5},{"s":"b16","g":"b","x":35,"y":18},{"s":"b16","g":"b","x":36,"y":0.26},{"s":"b16","g":"b","x":37,"y":0.28},{"s":"b16","g":"b","x":38,"y":0.31},{"s":"b16","g":"b","x":39,"y":0.33},{"s":"b16","g":"b","x":40,"y":0.35},{"s":"b16","g":"b","x":41,"y":0.35},{"s":"b16","g":"b","x":42,"y":0.36},{"s":"b16","g":"b","x":43,"y":0.37},
{"s":"b17","g":"b","x":34,"y":0.9},{"s":"b17","g":"b","x":35,"y":30},{"s":"b17","g":"b","x":36,"y":0.22},{"s":"b17","g":"b","x":37,"y":0.25},{"s":"b17","g":"b","x":38,"y":0.28},{"s":"b17","g":"b","x":39,"y":0.30},{"s":"b17","g":"b","x":40,"y":0.32},{"s":"b17","g":"b","x":41,"y":0.34},{"s":"b17","g":"b","x":42,"y":0.34},{"s":"b17","g":"b","x":43,"y":0.35},
{"s":"b18","g":"b","x":34,"y":-0.3},{"s":"b18","g":"b","x":35,"y":7},{"s":"b18","g":"b","x":36,"y":0.27},{"s":"b18","g":"b","x":37,"y":0.30},{"s":"b18","g":"b","x":38,"y":0.32},{"s":"b18","g":"b","x":39,"y":0.35},{"s":"b18","g":"b","x":40,"y":0.36},{"s":"b18","g":"b","x":41,"y":0.37},{"s":"b18","g":"b","x":42,"y":0.37},{"s":"b18","g":"b","x":43,"y":0.36}
],
"D":[
{"g":"r","x":34,"y":0.51},{"g":"r","x":35,"y":0.86},{"g":"r","x":36,"y":0.46},{"g":"r","x":37,"y":0.48},{"g":"r","x":38,"y":0.49},{"g":"r","x":39,"y":0.49},{"g":"r","x":40,"y":0.50},{"g":"r","x":41,"y":0.50},{"g":"r","x":42,"y":0.505},{"g":"r","x":43,"y":0.495},
{"g":"b","x":34,"y":0.29},{"g":"b","x":35,"y":-0.74},{"g":"b","x":36,"y":0.245},{"g":"b","x":37,"y":0.285},{"g":"b","x":38,"y":0.305},{"g":"b","x":39,"y":0.325},{"g":"b","x":40,"y":0.338},{"g":"b","x":41,"y":0.35},{"g":"b","x":42,"y":0.36},{"g":"b","x":43,"y":0.36}
],
"E":[
{"g":"r","x":35,"lo":-2,"hi":3},
{"g":"r","x":36,"lo":0.31,"hi":0.61},{"g":"r","x":37,"lo":0.41,"hi":0.553},{"g":"r","x":38,"lo":0.432,"hi":0.552},{"g":"r","x":39,"lo":0.418,"hi":0.57},{"g":"r","x":40,"lo":0.438,"hi":0.562},{"g":"r","x":41,"lo":0.428,"hi":0.572},{"g":"r","x":42,"lo":0.435,"hi":0.575},{"g":"r","x":43,"lo":0.435,"hi":0.556},
{"g":"b","x":36,"lo":0.155,"hi":0.36},{"g":"b","x":37,"lo":0.222,"hi":0.35},{"g":"b","x":38,"lo":0.272,"hi":0.376},{"g":"b","x":39,"lo":0.268,"hi":0.386},{"g":"b","x":40,"lo":0.294,"hi":0.381},{"g":"b","x":41,"lo":0.30,"hi":0.405},{"g":"b","x":42,"lo":0.315,"hi":0.415},{"g":"b","x":43,"lo":0.326,"hi":0.406}
]
},
"concat":[
{
"width":505,"height":333,
"title":{"text":"Cy5 Signals Acquired at 55°C (No Correction)"},
"layer":[
{"data":{"name":"A"},"mark":{"type":"line","interpolate":"monotone","strokeWidth":1.8},
"encoding":{
"x":{"field":"x","type":"quantitative","scale":{"domain":[33,43],"nice":false,"zero":false},"axis":{"values":[33,35,37,39,41,43],"tickCount":20,"format":"d","labelFont":"'Liberation Serif', 'Times New Roman', serif","labelFontSize":15,"labelOverlap":false,"labelFlush":false,"title":"Cycle Number","titleY":51}},
"y":{"field":"y","type":"quantitative","scale":{"domain":[0,600],"nice":false},"axis":{"values":[0,100,200,300,400,500,600],"tickCount":20,"format":"d","labelFont":"'Liberation Serif', 'Times New Roman', serif","labelFontSize":15,"labelOverlap":false,"title":"Fluorescence Units","titleX":-55.5}},
"detail":{"field":"s","type":"nominal"},
"color":{"field":"g","type":"nominal","scale":{"domain":["r","b"],"range":["#f01414","#1414e6"]},"legend":null}}},
{"data":{"values":[{}]},"mark":{"type":"rule","color":"#000","strokeWidth":2},"encoding":{"y":{"datum":28}}},
{"data":{"values":[{}]},"mark":{"type":"text","fontSize":27,"fontWeight":"bold","font":"Liberation Sans","baseline":"middle","align":"center","color":"#000"},"encoding":{"x":{"datum":33.67},"y":{"datum":533},"text":{"value":"A"}}}
]
},
{
"width":497,"height":331,
"title":{"text":"Cy5 Signals Acquired at 40°C (No Correction)"},
"layer":[
{"data":{"name":"B"},"mark":{"type":"line","interpolate":"monotone","strokeWidth":1.8},
"encoding":{
"x":{"field":"x","type":"quantitative","scale":{"domain":[33,43],"nice":false,"zero":false},"axis":{"values":[33,35,37,39,41,43],"tickCount":20,"format":"d","labelExpr":"datum.value == 43 ? '' : datum.label","labelFont":"'Liberation Serif', 'Times New Roman', serif","labelFontSize":15,"labelOverlap":false,"labelFlush":false,"title":"Cycle Number","titleY":50.5}},
"y":{"field":"y","type":"quantitative","scale":{"domain":[0,1200],"nice":false},"axis":{"values":[0,200,400,600,800,1000,1200],"tickCount":20,"format":"d","labelFont":"'Liberation Serif', 'Times New Roman', serif","labelFontSize":15,"labelOverlap":false,"title":"Fluorescence Units","titleX":-60}},
"detail":{"field":"s","type":"nominal"},
"color":{"field":"g","type":"nominal","scale":{"domain":["r","b"],"range":["#f01414","#1414e6"]},"legend":null}}},
{"data":{"values":[{}]},"mark":{"type":"rule","color":"#000","strokeWidth":2},"encoding":{"y":{"datum":55}}},
{"data":{"values":[{}]},"mark":{"type":"text","fontSize":27,"fontWeight":"bold","font":"Liberation Sans","baseline":"middle","align":"center","color":"#000"},"encoding":{"x":{"datum":33.66},"y":{"datum":1091},"text":{"value":"B"}}}
]
},
{
"width":495,"height":332,
"title":{"text":"Cy5 at 55°C to Cy5 at 40°C Signal Ratio"},
"layer":[
{"data":{"name":"C"},"mark":{"type":"line","strokeWidth":1.5,"clip":true},
"encoding":{
"x":{"field":"x","type":"quantitative","scale":{"domain":[34,43],"nice":false,"zero":false},"axis":{"values":[34,36,38,40,42],"tickCount":20,"format":"d","labelFont":"'Liberation Serif', 'Times New Roman', serif","labelFontSize":15,"labelOverlap":false,"labelFlush":false,"title":"Cycle Number","titleY":52.5}},
"y":{"field":"y","type":"quantitative","scale":{"domain":[0,1],"nice":false},"axis":{"values":[0,0.1,0.2,0.3,0.4,0.5,0.6,0.7,0.8,0.9,1],"tickCount":20,"format":".1f","labelFont":"'Liberation Serif', 'Times New Roman', serif","labelFontSize":15,"labelOverlap":false,"title":"Cy5 Signals at 66°C /Cy5 Signals at 40°C","titleX":-50.5}},
"detail":{"field":"s","type":"nominal"},
"color":{"field":"g","type":"nominal","scale":{"domain":["r","b"],"range":["#f01414","#1414e6"]},"legend":null}}},
{"data":{"values":[{}]},"mark":{"type":"rect","color":"#fff"},"encoding":{"x":{"datum":34.24},"x2":{"datum":35.33},"y":{"datum":0.785},"y2":{"datum":0.995}}},
{"data":{"values":[{}]},"mark":{"type":"text","fontSize":27,"fontWeight":"bold","font":"Liberation Sans","baseline":"middle","align":"center","color":"#000"},"encoding":{"x":{"datum":34.78},"y":{"datum":0.902},"text":{"value":"C"}}}
]
},
{
"width":496,"height":335,
"title":{"text":"Cy5 at 55°C to Cy5 at 40°C Signal Ratio (Error Bars)"},
"layer":[
{"data":{"name":"D"},"mark":{"type":"line","strokeWidth":3,"clip":true},
"encoding":{
"x":{"field":"x","type":"quantitative","scale":{"domain":[34,43],"nice":false,"zero":false},"axis":{"values":[34,36,38,40,42],"tickCount":20,"format":"d","labelFont":"'Liberation Serif', 'Times New Roman', serif","labelFontSize":15,"labelOverlap":false,"labelFlush":false,"title":"Cycle Number","titleY":50.5}},
"y":{"field":"y","type":"quantitative","scale":{"domain":[0,1],"nice":false},"axis":{"values":[0,0.1,0.2,0.3,0.4,0.5,0.6,0.7,0.8,0.9,1],"tickCount":20,"format":".1f","labelFont":"'Liberation Serif', 'Times New Roman', serif","labelFontSize":15,"labelOverlap":false,"title":"Cy5 Signals at 66°C /Cy5 Signals at 40°C","titleX":-59}},
"color":{"field":"g","type":"nominal","scale":{"domain":["r","b"],"range":["#e01818","#1818d8"]},"legend":null}}},
{"data":{"name":"E"},"mark":{"type":"rule","color":"#333","strokeWidth":1.3,"clip":true},"encoding":{"x":{"field":"x","type":"quantitative"},"y":{"field":"lo","type":"quantitative"},"y2":{"field":"hi"}}},
{"data":{"name":"E"},"mark":{"type":"tick","orient":"horizontal","color":"#333","size":8,"thickness":1.3,"clip":true},"encoding":{"x":{"field":"x","type":"quantitative"},"y":{"field":"lo","type":"quantitative"}}},
{"data":{"name":"E"},"mark":{"type":"tick","orient":"horizontal","color":"#333","size":8,"thickness":1.3,"clip":true},"encoding":{"x":{"field":"x","type":"quantitative"},"y":{"field":"hi","type":"quantitative"}}},
{"data":{"values":[{}]},"mark":{"type":"text","fontSize":27,"fontWeight":"bold","font":"Liberation Sans","baseline":"middle","align":"center","color":"#000"},"encoding":{"x":{"datum":34.54},"y":{"datum":0.91},"text":{"value":"D"}}}
]
}
]
}
